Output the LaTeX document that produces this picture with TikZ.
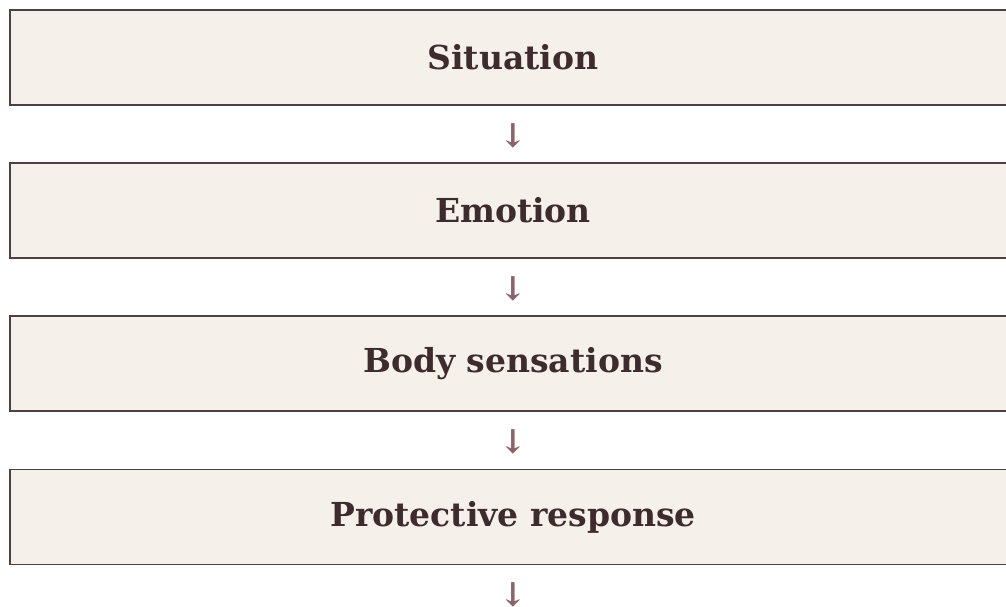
\documentclass[tikz,border=0pt]{standalone}
\usepackage{fontspec}
\setmainfont{DejaVu Serif}
\definecolor{boxfill}{HTML}{F5F0EA}
\definecolor{boxline}{HTML}{4D4044}
\definecolor{txt}{HTML}{3D2B2E}
\definecolor{arr}{HTML}{8B636A}
\begin{document}
\begin{tikzpicture}[x=1pt,y=-1pt,
  stagebox/.style={draw=boxline,line width=1.8pt,fill=boxfill,minimum width=1006pt,minimum height=95pt,inner sep=0pt,
    font=\fontsize{33}{38}\selectfont\bfseries,text=txt},
  arrowglyph/.style={font=\fontsize{33}{36}\selectfont\bfseries,text=arr,inner sep=0pt}]
\useasboundingbox (0,0) rectangle (1006,606);
\node[stagebox] (s1) at (513,57.5) {Situation};
\node[stagebox] (s2) at (513,210.5) {Emotion};
\node[stagebox] (s3) at (513,363.5) {Body sensations};
\node[stagebox] (s4) at (513,517) {Protective response};
\node[arrowglyph] (a1) at (513,135.5) {↓};
\node[arrowglyph] (a2) at (513,288.5) {↓};
\node[arrowglyph] (a3) at (513,441.5) {↓};
\node[arrowglyph] (a4) at (513,595) {↓};
\end{tikzpicture}
\end{document}
